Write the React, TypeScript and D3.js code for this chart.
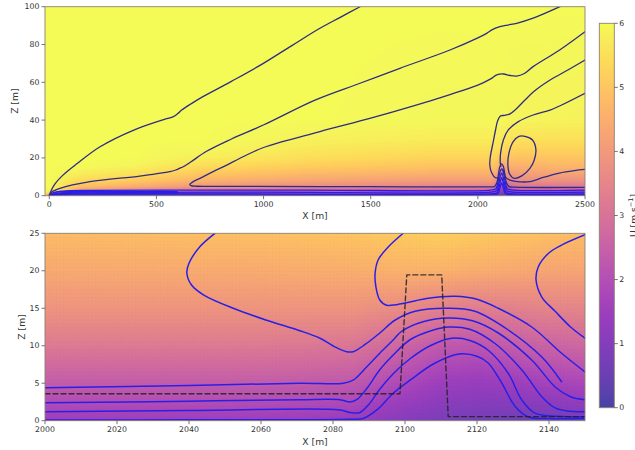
import React, { useMemo } from "react";
import * as d3 from "d3";

type P = [number, number];

// ---------- ticks ----------
const topXTicks = [0, 500, 1000, 1500, 2000, 2500];
const topZTicks = [0, 20, 40, 60, 80, 100];
const botXTicks = [2000, 2020, 2040, 2060, 2080, 2100, 2120, 2140];
const botZTicks = [0, 5, 10, 15, 20, 25];
const cbTicks = [0, 1, 2, 3, 4, 5, 6];

// ---------- top panel field (U profiles at x stations) ----------
const topXs = [-20, 0, 150, 400, 700, 1200, 1800, 2060, 2085, 2111, 2140, 2200, 2350, 2500];
const topZs = [0, 1, 2, 3, 5, 8, 12, 16, 20, 25, 30, 40, 100];
const topU = [
  [5.5, 5.9, 6, 6, 6, 6, 6, 6, 6, 6, 6, 6, 6],
  [1.0, 4.5, 5.5, 5.9, 6, 6, 6, 6, 6, 6, 6, 6, 6],
  [0.5, 2.3, 3.5, 4.2, 4.9, 5.4, 5.8, 6, 6, 6, 6, 6, 6],
  [0.3, 1.8, 2.9, 3.6, 4.5, 5.1, 5.6, 5.9, 6, 6, 6, 6, 6],
  [0.3, 1.5, 2.5, 3.2, 4.0, 4.6, 5.1, 5.5, 5.8, 5.95, 6, 6, 6],
  [0.3, 1.3, 2.2, 2.9, 3.7, 4.3, 4.8, 5.2, 5.5, 5.7, 5.85, 6, 6],
  [0.3, 1.2, 2.0, 2.7, 3.5, 4.1, 4.6, 5.0, 5.3, 5.55, 5.75, 5.95, 6],
  [0.3, 1.2, 2.0, 2.7, 3.5, 4.1, 4.6, 5.0, 5.3, 5.55, 5.75, 5.95, 6],
  [0.3, 1.0, 1.7, 2.3, 3.1, 3.8, 4.4, 4.9, 5.3, 5.55, 5.75, 5.95, 6],
  [0.2, 0.6, 1.0, 1.4, 2.0, 2.7, 3.4, 4.3, 5.0, 5.45, 5.7, 5.95, 6],
  [0.3, 0.9, 1.5, 2.0, 2.7, 3.4, 4.0, 4.6, 5.0, 5.35, 5.6, 5.9, 6],
  [0.3, 1.1, 1.8, 2.4, 3.1, 3.7, 4.2, 4.6, 4.95, 5.3, 5.55, 5.9, 6],
  [0.3, 1.2, 1.9, 2.5, 3.2, 3.8, 4.3, 4.7, 5.0, 5.3, 5.55, 5.88, 6],
  [0.3, 1.2, 1.9, 2.5, 3.2, 3.8, 4.3, 4.7, 5.0, 5.3, 5.55, 5.85, 6],
];

// ---------- bottom panel field ----------
const botXs = [2000, 2060, 2085, 2098, 2110, 2120, 2130, 2140, 2150];
const botZs = [0, 2, 5, 10, 15, 20, 25];
const botU = [
  [1.5, 1.9, 2.4, 3.2, 3.9, 4.4, 4.8],
  [1.5, 1.9, 2.4, 3.2, 3.9, 4.45, 4.9],
  [1.4, 1.8, 2.3, 3.1, 3.9, 4.5, 5.0],
  [1.1, 1.4, 1.9, 2.7, 3.7, 4.6, 5.1],
  [0.8, 1.1, 1.5, 2.3, 3.4, 4.6, 5.2],
  [0.7, 1.0, 1.4, 2.2, 3.3, 4.5, 5.1],
  [0.6, 1.0, 1.5, 2.4, 3.4, 4.4, 5.0],
  [0.6, 1.1, 1.7, 2.6, 3.5, 4.3, 4.9],
  [0.7, 1.2, 1.8, 2.7, 3.5, 4.3, 4.8],
];

// ---------- top panel contour lines ----------
const topLineA: P[] = [[0, 0], [8, 2.5], [25, 6], [60, 10.5], [130, 17], [237, 25.9], [400, 35], [540, 40.5], [579, 41.8], [600, 43.5], [618, 45.3], [660, 48.5], [703, 51.5], [850, 60.5], [999, 70], [1130, 79.3], [1263, 88.6], [1360, 94.5], [1450, 100]];
const topLineB: P[] = [[0, 0], [12, 2], [50, 3.9], [190, 7.4], [423, 10.4], [563, 12.7], [590, 13.6], [610, 14.6], [625, 15.3], [660, 17.8], [734, 23.5], [850, 30], [999, 37.4], [1240, 50.6], [1450, 59.5], [1636, 67.4], [1870, 77.1], [2000, 83.5], [2041, 85.9], [2070, 88], [2103, 89.4], [2140, 90.3], [2181, 91.2], [2258, 93.9], [2383, 100]];
const topLineC: P[] = [[2500, 86.8], [2380, 77], [2258, 68.3], [2215, 64.5], [2181, 63.3], [2150, 63.6], [2119, 64.4], [2088, 63.9], [2060, 61.8], [2000, 58.5], [1870, 53.5], [1700, 47.5], [1500, 41], [1263, 33.9], [1000, 25.5], [890, 19.8], [828, 16.2], [760, 12.5], [703, 9.2], [670, 7.3], [656, 6], [662, 5.3], [688, 5.0], [900, 4.9], [1500, 4.8], [2050, 4.7], [2078, 4.9], [2089, 7], [2097, 12], [2103, 15.5], [2111, 16.8], [2119, 15.5], [2125, 12], [2133, 7], [2146, 4.8], [2175, 4.5], [2500, 4.4]];
const topLineL3: P[] = [[2500, 71.8], [2420, 66.5], [2337, 61.2], [2260, 55], [2220, 50.6], [2175, 45.5], [2150, 43.3], [2125, 42.5], [2105, 42.2], [2092, 39.5], [2082, 34.5], [2070, 27.5], [2058, 20.5], [2056, 16], [2065, 12], [2082, 9.5], [2094, 9.5]];
const topLineL4: P[] = [[2500, 54.2], [2391, 48], [2337, 45.3], [2258, 42.7], [2189, 39.2], [2142, 34.8], [2119, 29.5], [2106, 22.4], [2105, 17], [2108, 15.5]];
const topEllipse: P[] = [[2220, 31.4], [2255, 29.5], [2271, 24.2], [2262, 18.5], [2243, 14.5], [2205, 10.5], [2170, 9.2], [2148, 11.5], [2140, 16.5], [2145, 22.5], [2165, 28.6], [2192, 31.4]];
const topLineWake: P[] = [[2117, 14], [2128, 10], [2150, 8.2], [2200, 7.3], [2250, 7.6], [2300, 9.5], [2380, 12], [2450, 13.3], [2500, 13.9]];
const topLow2: P[] = [[0, 0], [20, 1.6], [60, 2.4], [200, 2.8], [600, 3], [1200, 3], [2060, 3], [2084, 3.7], [2095, 8], [2102, 12], [2111, 14.2], [2120, 12], [2127, 8], [2138, 3.7], [2165, 3], [2500, 3]];
const topLoop: P[] = [[0, 0], [30, 1.8], [100, 2.1], [400, 2.15], [580, 2.15], [600, 1.9], [595, 1.45], [560, 1.35], [300, 1.35], [50, 1.1], [0, 0]];
const topLow4: P[] = [[0, 0], [50, 1.5], [300, 1.8], [1000, 1.9], [2060, 1.9], [2087, 2.6], [2097, 6], [2104, 10], [2111, 12], [2118, 10], [2125, 6], [2135, 2.6], [2165, 1.9], [2500, 1.9]];
const topLow5: P[] = [[0, 0], [100, 0.9], [2060, 1], [2090, 1.6], [2100, 5], [2106, 8], [2111, 9.7], [2116, 8], [2122, 5], [2132, 1.6], [2165, 1], [2500, 1]];
const topLow6: P[] = [[0, 0], [100, 0.4], [2060, 0.45], [2093, 1], [2103, 4], [2111, 6.8], [2119, 4], [2129, 1], [2165, 0.45], [2500, 0.45]];

// ---------- bottom panel contour lines ----------
const botLineE: P[] = [[2047.2, 25], [2043, 23.2], [2040, 21], [2039.4, 19.7], [2040.7, 18.1], [2044, 16.8], [2052.3, 15], [2061.6, 13.4], [2070.8, 12], [2076.4, 11], [2080.3, 9.9], [2083.8, 9.2], [2085.6, 9.2], [2089, 10.2], [2093, 11.7], [2097.2, 13.4], [2102.8, 14.6], [2112, 15], [2119.4, 14.6], [2128.7, 12.1], [2138, 8.5], [2143.5, 5.2]];
const botLineF: P[] = [[2099.5, 25], [2095.4, 23.2], [2092.6, 21.5], [2091.7, 19.7], [2091.9, 17.9], [2093, 16.1], [2094.9, 15.4], [2100, 15.7], [2106, 16.3], [2113.9, 16.6], [2120, 16.2], [2125.9, 15], [2135.2, 12.5], [2143.5, 9], [2150, 6.5]];
const botLineG: P[] = [[2150, 24.8], [2143, 23.3], [2139.8, 22.3], [2137, 20.5], [2136.4, 18.8], [2138, 16.5], [2141.7, 14.6], [2146, 12.5], [2150, 11]];
const botArch3: P[] = [[2000, 4.4], [2040, 4.7], [2070.8, 5], [2082.9, 5], [2085.6, 5.4], [2089.4, 7.2], [2093, 9], [2096.8, 10.8], [2099, 11.9], [2105, 13.2], [2112, 13.7], [2119, 13.3], [2125.9, 11.7], [2135.2, 8.1], [2141.7, 4.5], [2146, 3.2], [2150, 2.8]];
const botArch4: P[] = [[2000, 2.4], [2040, 2.6], [2070.8, 2.8], [2081.9, 2.8], [2084.7, 2.5], [2086.6, 2.8], [2089.4, 4.3], [2093, 6.8], [2096.8, 8.8], [2101.4, 10.8], [2107.9, 12.1], [2112, 12.5], [2118, 12.2], [2125, 10.3], [2132.4, 6.8], [2138, 3.2], [2141.7, 1.7], [2145, 1.3], [2150, 1.2]];
const botArch5: P[] = [[2000, 1.2], [2040, 1.35], [2081.9, 1.43], [2084.7, 1.1], [2087.5, 1.1], [2090, 2.2], [2093, 4.2], [2097, 6.4], [2101.5, 8.3], [2107, 10], [2113, 11], [2118, 10.7], [2123.1, 9.4], [2128.7, 6.3], [2132.4, 2.8], [2136.1, 1], [2142, 0.6], [2150, 0.5]];
const botArch6: P[] = [[2000, 0.1], [2040, 0.12], [2084.7, 0.2], [2088.4, 0.3], [2092.1, 1.4], [2096.8, 3.7], [2101.4, 5.4], [2108, 7.6], [2115, 8.9], [2120, 8.6], [2123.1, 7.7], [2126.9, 5], [2130.6, 1.9], [2134.3, 0.5], [2140, 0.3], [2150, 0.3]];
const botObstacle: P[] = [[2000, 3.6], [2098.6, 3.6], [2100.5, 19.45], [2110.2, 19.45], [2112, 0.55], [2150, 0.55]];

// ---------- layout ----------
const W = 635, H = 450;
const PL = 45, PR = 585;
const TOP = { y0: 6.7, y1: 195.7 };
const BOT = { y0: 233.3, y1: 420.7 };
const CB = { x0: 599.3, x1: 614.3, y0: 23.3, y1: 407.7 };
const UMAX = 6;
const ALPHA = 0.76;
const FONT = "DejaVu Sans, sans-serif";
const NAVY = "#2f2c84";
const BLUE = "#2a1fe6";
const SPINE = "#8c8272";

const lut: [number, number, number][] = d3.range(256).map((i) => {
  const c = d3.rgb(d3.interpolatePlasma(i / 255));
  return [
    Math.round(c.r * ALPHA + 255 * (1 - ALPHA)),
    Math.round(c.g * ALPHA + 255 * (1 - ALPHA)),
    Math.round(c.b * ALPHA + 255 * (1 - ALPHA)),
  ];
});
const colorOf = (v: number) => {
  const k = Math.max(0, Math.min(255, Math.round((v / UMAX) * 255)));
  const c = lut[k];
  return `rgb(${c[0]},${c[1]},${c[2]})`;
};

function bracket(arr: number[], v: number): [number, number] {
  let i = d3.bisectRight(arr, v) - 1;
  i = Math.max(0, Math.min(arr.length - 2, i));
  let t = (v - arr[i]) / (arr[i + 1] - arr[i]);
  t = Math.max(0, Math.min(1, t));
  return [i, t];
}

function sample(xs: number[], zs: number[], U: number[][], x: number, z: number) {
  const [i, tx] = bracket(xs, x);
  const [j, tz] = bracket(zs, z);
  const a = U[i][j] * (1 - tz) + U[i][j + 1] * tz;
  const b = U[i + 1][j] * (1 - tz) + U[i + 1][j + 1] * tz;
  return a * (1 - tx) + b * tx;
}

function renderField(
  xs: number[], zs: number[], U: number[][],
  sx: d3.ScaleLinear<number, number>, sy: d3.ScaleLinear<number, number>
) {
  const [px0, px1] = sx.range();
  const [py1, py0] = sy.range();
  const w = Math.round(px1 - px0), h = Math.round(py1 - py0);
  const canvas = document.createElement("canvas");
  canvas.width = w; canvas.height = h;
  const ctx = canvas.getContext("2d");
  if (!ctx) return "";
  const img = ctx.createImageData(w, h);
  for (let j = 0; j < h; j++) {
    const z = sy.invert(py0 + ((j + 0.5) * (py1 - py0)) / h);
    for (let i = 0; i < w; i++) {
      const x = sx.invert(px0 + ((i + 0.5) * (px1 - px0)) / w);
      const v = sample(xs, zs, U, x, z);
      const k = Math.max(0, Math.min(255, Math.round((v / UMAX) * 255)));
      const c = lut[k];
      const o = (j * w + i) * 4;
      img.data[o] = c[0]; img.data[o + 1] = c[1]; img.data[o + 2] = c[2]; img.data[o + 3] = 255;
    }
  }
  ctx.putImageData(img, 0, 0);
  return canvas.toDataURL();
}

const topX = d3.scaleLinear().domain([-20, 2500]).range([PL, PR]);
const topZ = d3.scaleLinear().domain([0, 100]).range([TOP.y1, TOP.y0]);
const botX = d3.scaleLinear().domain([2000, 2150]).range([PL, PR]);
const botZ = d3.scaleLinear().domain([0, 25]).range([BOT.y1, BOT.y0]);
const cbY = d3.scaleLinear().domain([0, UMAX]).range([CB.y1, CB.y0]);

function mkLine(sx: d3.ScaleLinear<number, number>, sy: d3.ScaleLinear<number, number>, closed = false, linear = false) {
  return d3
    .line<P>()
    .x((d) => sx(d[0]))
    .y((d) => sy(d[1]))
    .curve(linear ? d3.curveLinear : closed ? d3.curveCatmullRomClosed.alpha(0.5) : d3.curveCatmullRom.alpha(0.5));
}

const tickFont = 7.8;
const labelFont = 9.2;

function Axis({ sx, sy, y0, y1, xTicks, zTicks, xLabelY, zLabelX }: any) {
  return (
    <g fontFamily={FONT} fill="#333">
      <rect x={PL} y={y0} width={PR - PL} height={y1 - y0} fill="none" stroke={SPINE} strokeWidth={0.9} />
      {xTicks.map((t: number) => (
        <g key={"x" + t}>
          <line x1={sx(t)} x2={sx(t)} y1={y1} y2={y1 + 3.5} stroke="#555" strokeWidth={0.8} />
          <text x={sx(t)} y={y1 + 11.6} textAnchor="middle" fontSize={tickFont}>{t}</text>
        </g>
      ))}
      {zTicks.map((t: number) => (
        <g key={"z" + t}>
          <line x1={PL - 3.5} x2={PL} y1={sy(t)} y2={sy(t)} stroke="#555" strokeWidth={0.8} />
          <text x={PL - 5.5} y={sy(t)} textAnchor="end" dominantBaseline="central" fontSize={tickFont}>{t}</text>
        </g>
      ))}
      <text x={(PL + PR) / 2} y={xLabelY} textAnchor="middle" fontSize={labelFont}>X [m]</text>
      <text transform={`translate(${zLabelX},${(y0 + y1) / 2}) rotate(-90)`} textAnchor="middle" dominantBaseline="central" fontSize={labelFont}>Z [m]</text>
    </g>
  );
}

export default function App() {
  const topImg = useMemo(() => renderField(topXs, topZs, topU, topX, topZ), []);
  const botImg = useMemo(() => renderField(botXs, botZs, botU, botX, botZ), []);

  const lt = mkLine(topX, topZ);
  const ltc = mkLine(topX, topZ, true);
  const lb = mkLine(botX, botZ);
  const lbLin = mkLine(botX, botZ, false, true);

  const topNavy = [topLineA, topLineB, topLineC, topLineL3, topLineL4, topLineWake];
  const topBlue = [topLow2, topLoop, topLow4, topLow5, topLow6];
  const botLines = [botLineE, botLineF, botLineG, botArch3, botArch4, botArch5, botArch6];

  const cbStops = d3.range(0, 1.0001, 0.05);

  return (
    <svg width={W} height={H} style={{ position: "absolute", left: 0, top: 0, background: "#fff" }}>
      <defs>
        <clipPath id="clipTop"><rect x={PL} y={TOP.y0} width={PR - PL} height={TOP.y1 - TOP.y0} /></clipPath>
        <clipPath id="clipBot"><rect x={PL} y={BOT.y0} width={PR - PL} height={BOT.y1 - BOT.y0} /></clipPath>
        <linearGradient id="cbGrad" x1="0" y1="1" x2="0" y2="0">
          {cbStops.map((s) => (
            <stop key={s} offset={s} stopColor={colorOf(s * UMAX)} />
          ))}
        </linearGradient>
        <pattern id="meshGrid" x={PL} y={BOT.y0} width={3.6} height={3.75} patternUnits="userSpaceOnUse">
          <path d="M0,0 V3.75 M0,0 H3.6" stroke="#000" strokeOpacity={0.035} strokeWidth={0.6} fill="none" />
        </pattern>
      </defs>
      <rect x={0} y={0} width={W} height={H} fill="#fff" />

      {/* top panel */}
      <image href={topImg} x={PL} y={TOP.y0} width={PR - PL} height={TOP.y1 - TOP.y0} preserveAspectRatio="none" />
      <g clipPath="url(#clipTop)" fill="none" strokeLinejoin="round" strokeLinecap="round">
        {topBlue.map((d, i) => (
          <path key={"tb" + i} d={lt(d) || ""} stroke={BLUE} strokeWidth={1.3} />
        ))}
        {topNavy.map((d, i) => (
          <path key={"tn" + i} d={lt(d) || ""} stroke={NAVY} strokeWidth={1.3} />
        ))}
        <path d={ltc(topEllipse) || ""} stroke={NAVY} strokeWidth={1.3} />
      </g>
      <Axis sx={topX} sy={topZ} y0={TOP.y0} y1={TOP.y1} xTicks={topXTicks} zTicks={topZTicks} xLabelY={219.3} zLabelX={14.5} />

      {/* bottom panel */}
      <image href={botImg} x={PL} y={BOT.y0} width={PR - PL} height={BOT.y1 - BOT.y0} preserveAspectRatio="none" />
      <rect x={PL} y={BOT.y0} width={PR - PL} height={BOT.y1 - BOT.y0} fill="url(#meshGrid)" />
      <g clipPath="url(#clipBot)" fill="none" strokeLinejoin="round" strokeLinecap="round">
        {botLines.map((d, i) => (
          <path key={"bl" + i} d={lb(d) || ""} stroke={BLUE} strokeWidth={1.5} />
        ))}
        <path d={lbLin(botObstacle) || ""} stroke="#222" strokeWidth={1.4} strokeDasharray="5,3" strokeOpacity={0.85} />
      </g>
      <Axis sx={botX} sy={botZ} y0={BOT.y0} y1={BOT.y1} xTicks={botXTicks} zTicks={botZTicks} xLabelY={445} zLabelX={21.5} />

      {/* colorbar */}
      <rect x={CB.x0} y={CB.y0} width={CB.x1 - CB.x0} height={CB.y1 - CB.y0} fill="url(#cbGrad)" stroke={SPINE} strokeWidth={0.9} />
      <g fontFamily={FONT} fill="#333">
        {cbTicks.map((t) => (
          <g key={"cb" + t}>
            <line x1={CB.x1} x2={CB.x1 + 3.5} y1={cbY(t)} y2={cbY(t)} stroke="#555" strokeWidth={0.8} />
            <text x={CB.x1 + 5} y={cbY(t)} dominantBaseline="central" fontSize={tickFont}>{t}</text>
          </g>
        ))}
        <text transform={`translate(636.5,${(CB.y0 + CB.y1) / 2}) rotate(-90)`} textAnchor="middle" fontSize={labelFont}>
          U [m s<tspan dy={-3.5} fontSize={6.5}>−1</tspan><tspan dy={3.5}>]</tspan>
        </text>
      </g>
    </svg>
  );
}
